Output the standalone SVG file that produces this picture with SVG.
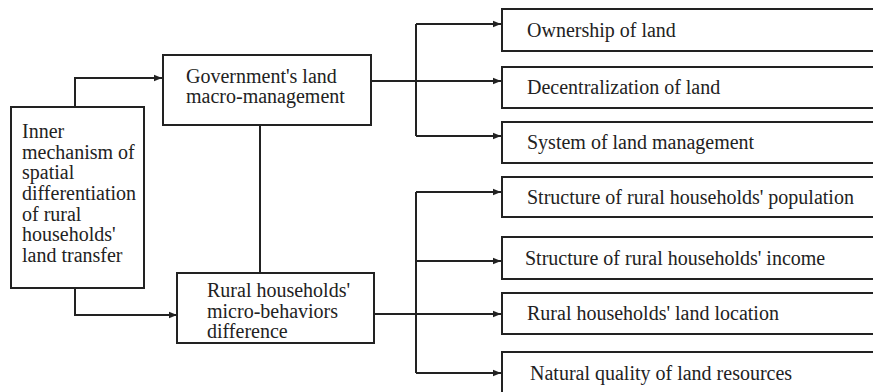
<svg xmlns="http://www.w3.org/2000/svg" width="873" height="392" viewBox="0 0 873 392">
<defs>
<marker id="ah" viewBox="0 0 10 10" refX="10" refY="5" markerWidth="8" markerHeight="8" markerUnits="userSpaceOnUse" orient="auto">
<path d="M0,1 L10,5 L0,9 Z" fill="#222"/>
</marker>
</defs>
<style>
.b{fill:#fff;stroke:#222;stroke-width:2}
text{font-family:'Liberation Serif','DejaVu Serif',serif;font-size:20px;fill:#222}
.c{fill:none;stroke:#222;stroke-width:2}
.a{marker-end:url(#ah)}
</style>
<rect width="873" height="392" fill="#fff"/>
<g id="connectors">
<path class="c a" d="M75,107 V78 H162"/>
<path class="c a" d="M75,288 V315 H177"/>
<path class="c" d="M260,125 V273"/>
<path class="c a" d="M371,81 H501"/>
<path class="c" d="M416,24 V136"/>
<path class="c a" d="M416,24 H501"/>
<path class="c a" d="M416,136 H501"/>
<path class="c a" d="M374,314 H501"/>
<path class="c" d="M416,192 V373"/>
<path class="c a" d="M416,192 H501"/>
<path class="c a" d="M416,261 H501"/>
<path class="c a" d="M416,373 H501"/>
</g>
<g font-family="Liberation Serif, DejaVu Serif, serif">
<g id="inner">
<rect class="b" x="11" y="107" width="133" height="181"/>
<text x="22" y="138">Inner</text>
<text x="22" y="159">mechanism of</text>
<text x="22" y="179">spatial</text>
<text x="22" y="200">differentiation</text>
<text x="22" y="221">of rural</text>
<text x="22" y="241">households'</text>
<text x="22" y="262">land transfer</text>
</g>
<g id="gov">
<rect class="b" x="163" y="55" width="208" height="70"/>
<text x="186" y="83">Government's land</text>
<text x="186" y="103">macro-management</text>
</g>
<g id="rural">
<rect class="b" x="177" y="273" width="197" height="70"/>
<text x="207" y="297">Rural households'</text>
<text x="207" y="318">micro-behaviors</text>
<text x="207" y="338">difference</text>
</g>
<g id="ownership">
<rect class="b" x="502" y="9" width="380" height="42"/>
<text x="527" y="37">Ownership of land</text>
</g>
<g id="decentral">
<rect class="b" x="502" y="67" width="380" height="41"/>
<text x="527" y="94">Decentralization of land</text>
</g>
<g id="system">
<rect class="b" x="502" y="122" width="380" height="41"/>
<text x="527" y="149">System of land management</text>
</g>
<g id="population">
<rect class="b" x="502" y="177" width="380" height="40"/>
<text x="527" y="204">Structure of rural households' population</text>
</g>
<g id="income">
<rect class="b" x="502" y="237" width="380" height="42"/>
<text x="525" y="265">Structure of rural households' income</text>
</g>
<g id="location">
<rect class="b" x="502" y="293" width="380" height="41"/>
<text x="527" y="320">Rural households' land location</text>
</g>
<g id="quality">
<rect class="b" x="502" y="352" width="380" height="50"/>
<text x="530" y="380">Natural quality of land resources</text>
</g>
</g>
</svg>
